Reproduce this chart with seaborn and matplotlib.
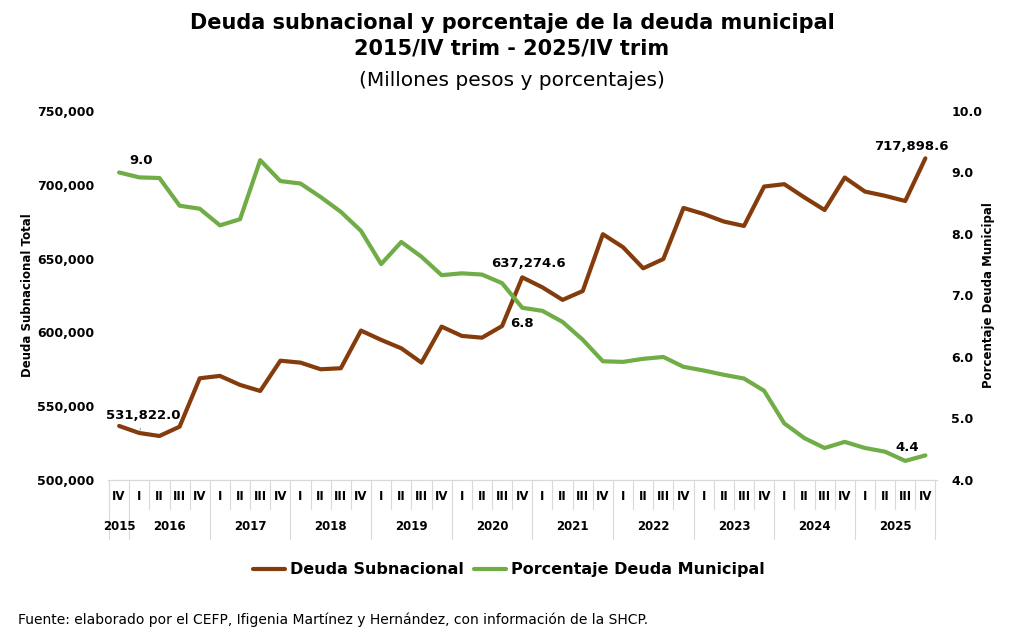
import pandas as pd
import matplotlib.pyplot as plt
import seaborn as sns
from matplotlib.lines import Line2D
from matplotlib.ticker import FuncFormatter

# trimestres 2015/IV - 2025/IV
trimestres = ["IV"] + ["I", "II", "III", "IV"] * 10
anios = ["2015"] + [str(a) for a in range(2016, 2026) for _ in range(4)]

# Deuda subnacional (millones de pesos)
deuda = [536600, 531822.0, 529800, 536100, 568900, 570500, 564400, 560300,
         580800, 579500, 575000, 575700, 601200, 594900, 589200, 579500,
         603900, 597600, 596400, 604300, 637274.6, 630500, 622000, 628000,
         666500, 657700, 643400, 649700, 684300, 680200, 675100, 672100,
         698800, 700400, 691400, 682900, 704900, 695400, 692500, 689000,
         717898.6]

# Porcentaje de deuda municipal
pct_mun = [9.0, 8.92, 8.91, 8.46, 8.41, 8.14, 8.24, 9.20, 8.86, 8.82,
           8.60, 8.36, 8.05, 7.51, 7.87, 7.63, 7.33, 7.36, 7.34, 7.20,
           6.8, 6.75, 6.57, 6.28, 5.93, 5.92, 5.97, 6.00, 5.84, 5.78,
           5.71, 5.65, 5.45, 4.92, 4.68, 4.52, 4.62, 4.52, 4.46, 4.31,
           4.4]

df = pd.DataFrame({"x": range(len(deuda)), "deuda": deuda, "pct": pct_mun,
                   "trim": trimestres, "anio": anios})

sns.set_style("white")
plt.rcParams['font.family'] = ['DejaVu Sans']
plt.rcParams['text.color'] = 'black'
plt.rcParams['axes.labelcolor'] = 'black'
plt.rcParams['ytick.color'] = 'black'

cafe = "#843C0C"
verde = "#70AD47"
gris = "#D9D9D9"

fig = plt.figure(figsize=(10.24, 6.44), dpi=100)
ax = fig.add_axes([0.1055, 0.2547, 0.81, 0.573])
ax2 = ax.twinx()

sns.lineplot(data=df, x="x", y="deuda", ax=ax, color=cafe, linewidth=3)
sns.lineplot(data=df, x="x", y="pct", ax=ax2, color=verde, linewidth=3)

ax.set_xlim(-0.55, 40.6)
ax.set_ylim(500000, 750000)
ax2.set_ylim(4.0, 10.0)
ax.set_yticks(range(500000, 750001, 50000))
ax2.set_yticks([4, 5, 6, 7, 8, 9, 10])
ax.yaxis.set_major_formatter(FuncFormatter(lambda v, p: f"{v:,.0f}"))
ax2.yaxis.set_major_formatter(FuncFormatter(lambda v, p: f"{v:.1f}"))
ax.tick_params(axis="y", length=0, labelsize=9, pad=10)
ax2.tick_params(axis="y", length=0, labelsize=9, pad=10)
for lab in ax.get_yticklabels() + ax2.get_yticklabels():
    lab.set_fontweight("bold")
ax.set_xticks([])
ax.set_xlabel("")
ax2.set_xlabel("")
ax.set_ylabel("Deuda Subnacional Total", fontsize=8.5, fontweight="bold", labelpad=2)
ax2.set_ylabel("Porcentaje Deuda Municipal", fontsize=8.5, fontweight="bold", labelpad=0)

for a in (ax, ax2):
    for s in ("top", "left", "right"):
        a.spines[s].set_visible(False)
    a.spines["bottom"].set_color(gris)

# etiquetas de categorias (trimestre / año)
tr = ax.get_xaxis_transform()
for i, t in enumerate(trimestres):
    ax.text(i, -0.045, t, transform=tr, ha="center", va="center",
            fontsize=8.5, fontweight="bold")
    if t != "I":
        ax.plot([i - 0.5, i - 0.5], [0, -0.08], transform=tr, color=gris,
                lw=0.8, clip_on=False)
    else:
        ax.plot([i - 0.5, i - 0.5], [0, -0.16], transform=tr, color=gris,
                lw=0.8, clip_on=False)
ax.plot([40.5, 40.5], [0, -0.16], transform=tr, color=gris, lw=0.8, clip_on=False)
ax.plot([-0.5, -0.5], [0, -0.16], transform=tr, color=gris, lw=0.8, clip_on=False)
for a in pd.unique(df["anio"]):
    xs = df.loc[df["anio"] == a, "x"]
    ax.text(xs.mean(), -0.125, a, transform=tr, ha="center", va="center",
            fontsize=8.5, fontweight="bold")

# anotaciones
ax.annotate("531,822.0", xy=(1, deuda[1]), xytext=(1.2, 543500), ha="center",
            va="center", fontsize=9.5, fontweight="bold",
            arrowprops=dict(arrowstyle="-", color="gray", lw=0.6))
ax.text(20.3, 646500, "637,274.6", ha="center", va="center", fontsize=9.5,
        fontweight="bold")
ax.text(39.3, 726000, "717,898.6", ha="center", va="center", fontsize=9.5,
        fontweight="bold")
ax2.text(1.1, 9.2, "9.0", ha="center", va="center", fontsize=9.5, fontweight="bold")
ax2.text(20.0, 6.55, "6.8", ha="center", va="center", fontsize=9.5, fontweight="bold")
ax2.text(39.1, 4.53, "4.4", ha="center", va="center", fontsize=9.5, fontweight="bold")

# titulo
fig.text(0.5, 0.965, "Deuda subnacional y porcentaje de la deuda municipal",
         ha="center", va="center", fontsize=15, fontweight="bold")
fig.text(0.5, 0.925, "2015/IV trim - 2025/IV trim", ha="center", va="center",
         fontsize=15, fontweight="bold")
fig.text(0.5, 0.875, "(Millones pesos y porcentajes)", ha="center", va="center",
         fontsize=14.5)

# leyenda
handles = [Line2D([], [], color=cafe, lw=3), Line2D([], [], color=verde, lw=3)]
fig.legend(handles, ["Deuda Subnacional", "Porcentaje Deuda Municipal"],
           loc="center", bbox_to_anchor=(0.497, 0.115), ncol=2, frameon=False,
           prop={"weight": "bold", "size": 11.5}, handlelength=2.0,
           handletextpad=0.35, columnspacing=0.6)

fig.text(0.018, 0.037, "Fuente: elaborado por el CEFP, Ifigenia Martínez y Hernández, "
         "con información de la SHCP.", ha="left", va="center", fontsize=10)

fig.savefig("out.png", dpi=100)
